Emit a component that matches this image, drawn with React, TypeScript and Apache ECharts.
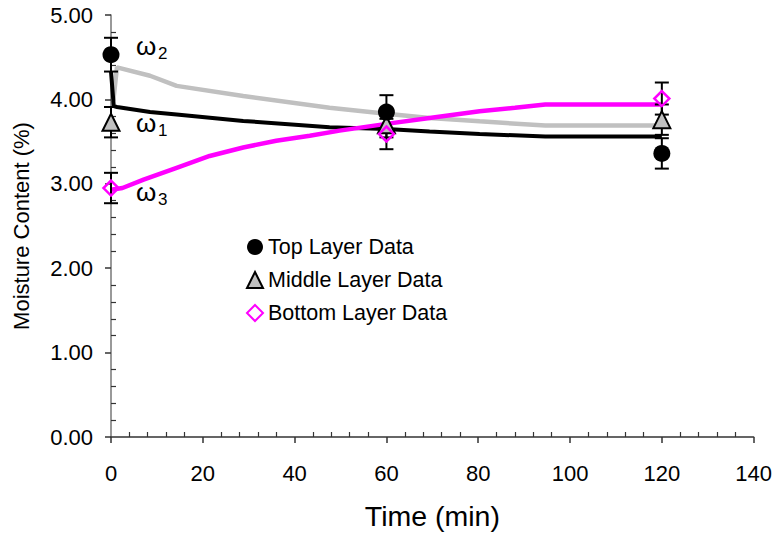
import React, { useEffect, useRef } from "react";
import * as echarts from "echarts";

// Sampling times (min) of the measured layers
const sampleTimes = [0, 60, 120];

// Measured moisture content (%) and error-bar half widths
const topLayer = [4.53, 3.85, 3.36];
const topErr = [0.2, 0.2, 0.18];
const middleLayer = [3.73, 3.7, 3.76];
const middleErr = [0.18, 0.15, 0.18];
const bottomLayer = [2.95, 3.59, 4.01];
const bottomErr = [0.18, 0.18, 0.19];

// Model curves: [time (min), moisture (%)]
const omega1Curve: [number, number][] = [
  [0, 4.33], [0.6, 3.92], [1.3, 3.91], [8.5, 3.85], [14.3, 3.82], [28.8, 3.745],
  [47.6, 3.67], [60, 3.65], [69.4, 3.62], [80.3, 3.59], [94.6, 3.56], [120, 3.56],
];
const omega2Curve: [number, number][] = [
  [0.5, 3.98], [1.3, 4.38], [8.5, 4.28], [14.3, 4.16], [28.8, 4.04], [47.6, 3.9],
  [60, 3.83], [69.4, 3.78], [80.3, 3.74], [94.6, 3.69], [120, 3.69],
];
const omega3Curve: [number, number][] = [
  [0, 2.93], [2.5, 2.95], [7.1, 3.05], [14.3, 3.19], [21.5, 3.33], [28.8, 3.43],
  [36, 3.51], [43.3, 3.57], [49.8, 3.63], [60, 3.71], [69.4, 3.78], [80.3, 3.86],
  [88, 3.9], [94.6, 3.94], [120, 3.94],
];

// Axis ticks
const xMajorTicks = [0, 20, 40, 60, 80, 100, 120, 140];
const yMajorTicks = [0, 1, 2, 3, 4, 5];
const xMinorTicks = xMajorTicks.slice(0, -1).flatMap((v) => [4, 8, 12, 16].map((d) => v + d));
const yMinorTicks = yMajorTicks
  .slice(0, -1)
  .flatMap((v) => [0.2, 0.4, 0.6, 0.8].map((d) => Math.round((v + d) * 10) / 10));

const legendNames = ["Top Layer Data", "Middle Layer Data", "Bottom Layer Data"];

const FONT = "'Liberation Sans', Arial, sans-serif";

function errorRows(values: number[], errs: number[]) {
  return sampleTimes.map((t, i) => [t, values[i] - errs[i], values[i] + errs[i]]);
}

function errorBarSeries(values: number[], errs: number[]) {
  return {
    type: "custom",
    silent: true,
    z: 3,
    clip: false,
    encode: { x: 0, y: [1, 2] },
    data: errorRows(values, errs),
    renderItem: (_params: any, api: any) => {
      const x = api.value(0);
      const lo = api.coord([x, api.value(1)]);
      const hi = api.coord([x, api.value(2)]);
      const hw = 7;
      const style = { stroke: "#000", lineWidth: 2 };
      return {
        type: "group",
        children: [
          { type: "line", shape: { x1: lo[0], y1: lo[1], x2: hi[0], y2: hi[1] }, style },
          { type: "line", shape: { x1: lo[0] - hw, y1: lo[1], x2: lo[0] + hw, y2: lo[1] }, style },
          { type: "line", shape: { x1: hi[0] - hw, y1: hi[1], x2: hi[0] + hw, y2: hi[1] }, style },
        ],
      };
    },
  };
}

function omegaLabel(x: number, y: number, sub: string) {
  return {
    type: "group",
    children: [
      {
        type: "text",
        x,
        y,
        style: { text: "ω", font: `26px ${FONT}`, fill: "#000", verticalAlign: "middle" },
      },
      {
        type: "text",
        x: x + 22,
        y: y + 7,
        style: { text: sub, font: `17px ${FONT}`, fill: "#000", verticalAlign: "middle" },
      },
    ],
  };
}

export default function App() {
  const ref = useRef<HTMLDivElement>(null);

  useEffect(() => {
    if (!ref.current) return;
    const chart = echarts.init(ref.current, undefined, { renderer: "svg" });

    const scatterBase = { type: "scatter", z: 5 };

    chart.setOption({
      animation: false,
      backgroundColor: "#fff",
      textStyle: { fontFamily: FONT, color: "#000" },
      grid: { left: 111, right: 20.3, top: 15, bottom: 95 },
      legend: {
        data: legendNames,
        orient: "vertical",
        left: 246,
        top: 236,
        padding: 0,
        itemWidth: 16,
        itemHeight: 16,
        itemGap: 11,
        textStyle: { fontSize: 21.5, fontFamily: FONT, color: "#000" },
        selectedMode: false,
      },
      xAxis: [
        {
          type: "value",
          min: 0,
          max: 140,
          interval: 20,
          name: "Time (min)",
          nameLocation: "middle",
          nameGap: 64,
          nameTextStyle: { fontSize: 28.5, fontFamily: FONT, color: "#000" },
          axisLine: { show: true, onZero: false, lineStyle: { color: "#333", width: 1.5 } },
          axisTick: { show: true, inside: false, length: 6, lineStyle: { color: "#333", width: 1.5 } },
          axisLabel: { fontSize: 22, margin: 25, color: "#000", fontFamily: FONT },
          splitLine: { show: false },
        },
        {
          type: "value",
          min: 0,
          max: 140,
          position: "bottom",
          axisLine: { show: false },
          axisLabel: { show: false },
          axisTick: {
            show: true,
            inside: true,
            length: 5,
            customValues: xMinorTicks,
            lineStyle: { color: "#333", width: 1.2 },
          },
          splitLine: { show: false },
        },
      ],
      yAxis: [
        {
          type: "value",
          min: 0,
          max: 5,
          interval: 1,
          name: "Moisture Content (%)",
          nameLocation: "middle",
          nameGap: 79,
          nameTextStyle: { fontSize: 22, fontFamily: FONT, color: "#000" },
          axisLine: { show: true, onZero: false, lineStyle: { color: "#777", width: 1.5 } },
          axisTick: { show: true, inside: false, length: 6, lineStyle: { color: "#333", width: 1.5 } },
          axisLabel: {
            fontSize: 22,
            margin: 18,
            color: "#000",
            fontFamily: FONT,
            formatter: (v: number) => v.toFixed(2),
          },
          splitLine: { show: false },
        },
        {
          type: "value",
          min: 0,
          max: 5,
          position: "left",
          axisLine: { show: false },
          axisLabel: { show: false },
          axisTick: {
            show: true,
            inside: true,
            length: 5,
            customValues: yMinorTicks,
            lineStyle: { color: "#333", width: 1.2 },
          },
          splitLine: { show: false },
        },
      ],
      graphic: [
        omegaLabel(136, 46, "2"),
        omegaLabel(136, 123, "1"),
        omegaLabel(136, 192, "3"),
      ],
      series: [
        {
          name: "ω2 model",
          type: "line",
          data: omega2Curve,
          showSymbol: false,
          z: 2,
          lineStyle: { color: "#c0c0c0", width: 4.5 },
          itemStyle: { color: "#c0c0c0" },
        },
        {
          name: "ω1 model",
          type: "line",
          data: omega1Curve,
          showSymbol: false,
          z: 2,
          lineStyle: { color: "#000", width: 4 },
          itemStyle: { color: "#000" },
        },
        {
          name: "ω3 model",
          type: "line",
          data: omega3Curve,
          showSymbol: false,
          z: 2,
          lineStyle: { color: "#ff00ff", width: 4.5 },
          itemStyle: { color: "#ff00ff" },
        },
        errorBarSeries(middleLayer, middleErr),
        errorBarSeries(topLayer, topErr),
        errorBarSeries(bottomLayer, bottomErr),
        {
          ...scatterBase,
          name: "Middle Layer Data",
          symbol: "triangle",
          symbolSize: 17,
          data: sampleTimes.map((t, i) => [t, middleLayer[i]]),
          itemStyle: { color: "#c0c0c0", borderColor: "#000", borderWidth: 2, opacity: 1 },
        },
        {
          ...scatterBase,
          name: "Top Layer Data",
          symbol: "circle",
          symbolSize: 17,
          z: 6,
          data: sampleTimes.map((t, i) => [t, topLayer[i]]),
          itemStyle: { color: "#000", borderColor: "#000", borderWidth: 0, opacity: 1 },
        },
        {
          ...scatterBase,
          name: "Bottom Layer Data",
          symbol: "diamond",
          symbolSize: 15,
          z: 7,
          data: sampleTimes.map((t, i) => [t, bottomLayer[i]]),
          itemStyle: {
            color: "rgba(255,255,255,0)",
            borderColor: "#ff00ff",
            borderWidth: 2.5,
            opacity: 1,
          },
        },
      ],
    });

    return () => chart.dispose();
  }, []);

  return (
    <div
      ref={ref}
      style={{ position: "fixed", left: 0, top: 0, width: 775, height: 535, background: "#fff" }}
    />
  );
}
